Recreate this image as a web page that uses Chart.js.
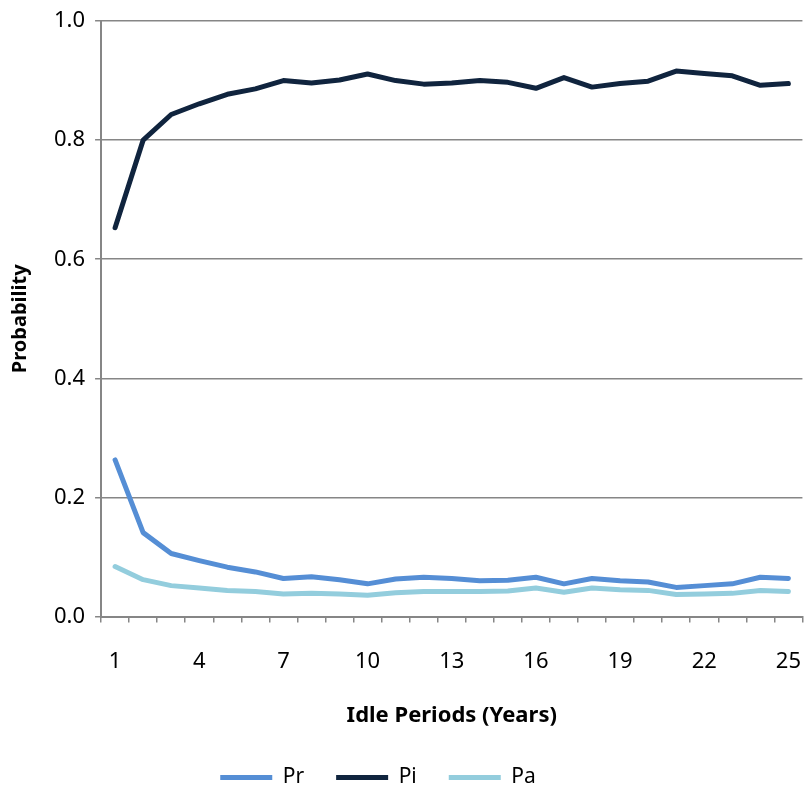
<!DOCTYPE html>
<html>
<head>
<meta charset="utf-8">
<script src="https://cdn.jsdelivr.net/npm/chart.js@4"></script>
<style>
  body { margin: 0; background: #fff; }
  #wrap { width: 807px; height: 790px; }
</style>
</head>
<body>
<div id="wrap"><canvas id="probChart" width="807" height="790"></canvas></div>
<script>
const years = [];
for (let i = 1; i <= 25; i++) years.push(String(i));

const pr = [0.263, 0.141, 0.106, 0.094, 0.083, 0.075, 0.064, 0.067, 0.062, 0.055, 0.063, 0.066, 0.064,
            0.060, 0.061, 0.066, 0.055, 0.064, 0.060, 0.058, 0.049, 0.052, 0.055, 0.066, 0.064];
const pi = [0.653, 0.800, 0.843, 0.861, 0.877, 0.886, 0.900, 0.896, 0.901, 0.911, 0.900, 0.894, 0.896,
            0.900, 0.897, 0.887, 0.905, 0.889, 0.895, 0.899, 0.916, 0.912, 0.908, 0.892, 0.895];
const pa = [0.084, 0.062, 0.052, 0.048, 0.044, 0.042, 0.038, 0.039, 0.038, 0.036, 0.040, 0.042, 0.042,
            0.042, 0.043, 0.048, 0.041, 0.048, 0.045, 0.044, 0.037, 0.038, 0.039, 0.044, 0.042];

const seriesNames = ["Pr", "Pi", "Pa"];
const seriesColors = ["#558ed5", "#10243e", "#93cddd"];
const fontFace = "'Noto Sans', 'Open Sans', sans-serif";
const axisGray = "#868686";

function makeSet(i, values){
    return {
        label: seriesNames[i],
        data: values,
        borderColor: seriesColors[i],
        backgroundColor: seriesColors[i],
        borderWidth: 5,
        borderCapStyle: "round",
        borderJoinStyle: "round",
        pointRadius: 0,
        tension: 0,
        fill: false
    };
}

// legend sits a bit left of the canvas centre
const legendShift = {
    id: "legendShift",
    afterLayout(chart){
        chart.legend.left -= 29;
        chart.legend.right -= 29;
    }
};

new Chart(document.getElementById("probChart"), {
    type: "line",
    data: {
        labels: years,
        datasets: [makeSet(0, pr), makeSet(1, pi), makeSet(2, pa)]
    },
    plugins: [legendShift],
    options: {
        responsive: false,
        animation: false,
        layout: { padding: { top: 2, right: 1, left: 8, bottom: -8 } },
        font: { family: fontFace },
        plugins: {
            tooltip: { enabled: false },
            legend: {
                position: "bottom",
                labels: {
                    usePointStyle: true,
                    pointStyle: "line",
                    pointStyleWidth: 52,
                    color: "#000",
                    padding: 32,
                    font: { family: fontFace, size: 21 }
                }
            }
        },
        scales: {
            x: {
                offset: true,
                grid: {
                    offset: true,
                    drawOnChartArea: false,
                    drawTicks: true,
                    tickLength: 6,
                    color: axisGray,
                    lineWidth: 1.5
                },
                border: { color: axisGray, width: 2 },
                ticks: {
                    autoSkip: false,
                    maxRotation: 0,
                    color: "#000",
                    padding: 6,
                    // tall line box drops the labels well below the axis
                    font: { family: fontFace, size: 22, lineHeight: "66px" },
                    callback: function(value, index){
                        return index % 3 === 0 ? this.getLabelForValue(value) : "";
                    }
                },
                title: {
                    display: true,
                    text: "Idle Periods (Years)",
                    color: "#000",
                    padding: { top: 2, bottom: 6 },
                    font: { family: fontFace, size: 22, weight: "bold" }
                }
            },
            y: {
                min: 0,
                max: 1,
                grid: {
                    color: axisGray,
                    lineWidth: 1.5,
                    tickLength: 6
                },
                border: { color: axisGray, width: 2 },
                ticks: {
                    stepSize: 0.2,
                    color: "#000",
                    padding: 10,
                    font: { family: fontFace, size: 22, lineHeight: 1 },
                    callback: v => v.toFixed(1)
                },
                title: {
                    display: true,
                    text: "Probability",
                    color: "#000",
                    padding: { top: 0, bottom: 12 },
                    font: { family: fontFace, size: 20, weight: "bold" }
                }
            }
        }
    }
});
</script>
</body>
</html>
